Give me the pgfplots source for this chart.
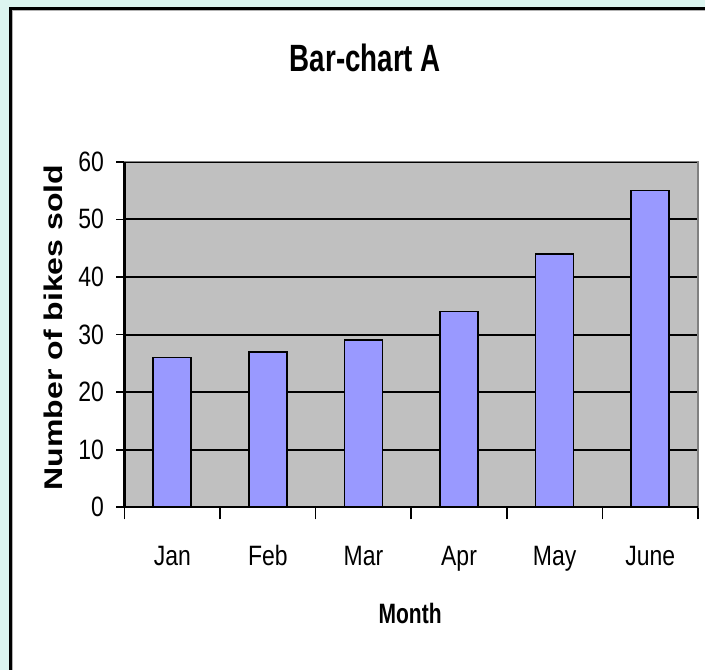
\documentclass[border=0pt]{standalone}
\usepackage{pgfplots}
\pgfplotsset{compat=1.18}
\usepackage{fontspec}
\setmainfont{Liberation Sans}
\newfontfamily\tickfont[FakeStretch=0.82]{Liberation Sans}
\newfontfamily\titlefont[FakeStretch=0.73]{Liberation Sans}
\newfontfamily\labfont[FakeStretch=0.75]{Liberation Sans}
\definecolor{framecyan}{HTML}{DCF5F0}
\definecolor{plotgray}{HTML}{C0C0C0}
\definecolor{barblue}{HTML}{9999FF}
\begin{document}
\begin{tikzpicture}
\fill[framecyan] (0,0) rectangle (705pt,670pt);
\fill[white] (10pt,0) rectangle (705pt,661pt);
\draw[black, line width=2.7pt] (10.3pt,0) -- (10.3pt,661.3pt) -- (705pt,661.3pt);
\draw[gray!60, line width=0.8pt] (12.2pt,0) -- (12.2pt,659.4pt) -- (705pt,659.4pt);
\begin{axis}[
  scale only axis,
  width=573.5pt, height=345.6pt,
  at={(124.5pt,162.7pt)}, anchor=south west,
  xmin=-0.5, xmax=5.5, ymin=0, ymax=60,
  ytick={0,10,...,60},
  xtick={0,1,2,3,4,5},
  xticklabels={Jan,Feb,Mar,Apr,May,June},
  minor xtick={-0.5,0.5,...,5.5},
  major x tick style={draw=none},
  minor x tick style={black, line width=1.6pt},
  minor tick length=12pt,
  major tick length=8pt,
  y tick style={black, line width=1.6pt},
  tick align=outside,
  tick pos=left,
  ymajorgrids,
  grid style={black, line width=2pt},
  axis background/.style={fill=plotgray},
  axis line style={draw=gray, line width=1.2pt},
  /pgf/number format/assume math mode=true,
  ticklabel style={font=\tickfont\fontsize{28}{28}\selectfont},
  xticklabel style={anchor=base, yshift=-50pt},
  yticklabel style={anchor=east, xshift=-9pt},
  title={Bar-chart A},
  title style={font=\titlefont\bfseries\fontsize{38}{38}\selectfont, at={(axis description cs:0.42,1)}, anchor=base, yshift=84pt},
  xlabel={Month},
  xlabel style={font=\labfont\bfseries\fontsize{28}{28}\selectfont, at={(axis description cs:0.498,0)}, anchor=base, yshift=-116pt},
  ylabel={Number of bikes sold},
  ylabel style={font=\bfseries\fontsize{32}{32}\selectfont, at={(axis description cs:-0.108,0.52)}, anchor=base, yscale=0.8},
  ybar, bar width=38pt,
  clip=false,
]
\addplot[fill=barblue, draw=black, line width=1.6pt] coordinates {(0,26) (1,27) (2,29) (3,34) (4,44) (5,55)};
\draw[black, line width=2.4pt] (rel axis cs:0,1) -- (rel axis cs:0,0) -- (rel axis cs:1,0);
\end{axis}
\pgfresetboundingbox
\path (0,0) rectangle (705pt,670pt);
\end{tikzpicture}
\end{document}
